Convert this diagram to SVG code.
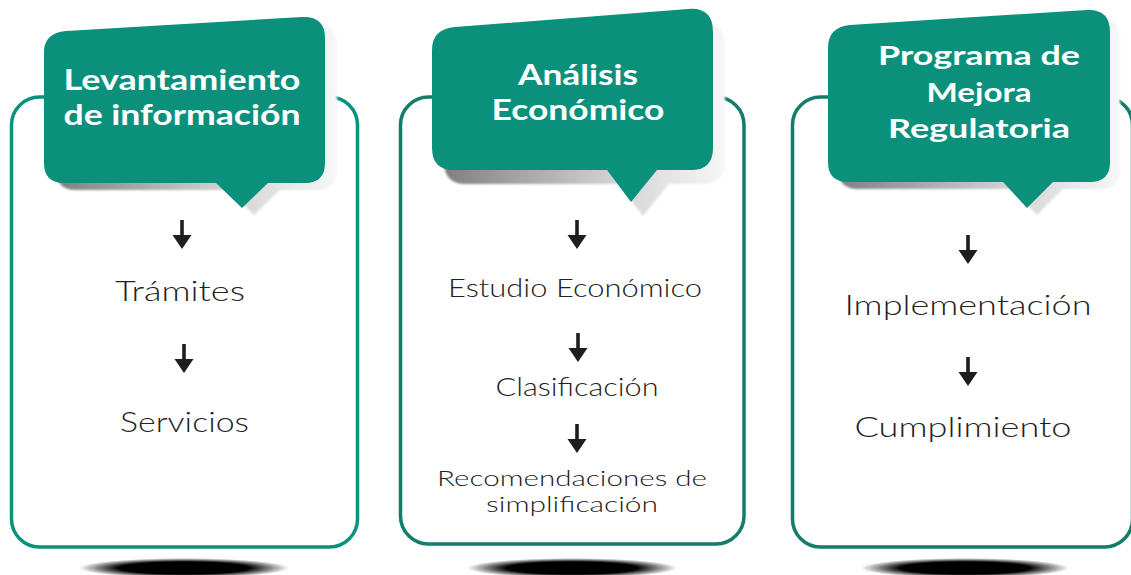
<svg xmlns="http://www.w3.org/2000/svg" xmlns:xlink="http://www.w3.org/1999/xlink" width="1131" height="575" viewBox="0 0 1131 575">
<style>
.panel{fill:#ffffff;stroke-width:3.5}
.p1{stroke:#0b927c}
.p2{stroke:#127d69}
.bubble{fill:#0b917b}
.bshadow{fill:url(#shGrad);filter:url(#soft)}
.head{font-family:Lato,"Open Sans","Liberation Sans",sans-serif;font-weight:700;fill:#ffffff;text-anchor:middle}
.body{font-family:Lato,"Open Sans","Liberation Sans",sans-serif;font-weight:300;fill:#222222;text-anchor:middle}
.arrow{fill:#1e1e1e}
.floor{fill:url(#floorGrad)}
</style>
<defs>
<linearGradient id="shGrad" x1="0" y1="0" x2="1" y2="0">
<stop offset="0" stop-color="#808080"/>
<stop offset="0.6" stop-color="#d2d2d2"/>
<stop offset="1" stop-color="#f7f7f7"/>
</linearGradient>
<radialGradient id="floorGrad" cx="0.5" cy="0.5" r="0.5">
<stop offset="0" stop-color="#000000"/>
<stop offset="0.62" stop-color="#000000"/>
<stop offset="1" stop-color="#000000" stop-opacity="0"/>
</radialGradient>
<filter id="soft" x="-10%" y="-10%" width="120%" height="120%">
<feGaussianBlur stdDeviation="1.2"/>
</filter>
<path id="arr" d="M-1.8,0 H1.8 V15 H9.5 L0,29 L-9.5,15 H-1.8 Z"/>
</defs>

<g id="floor-shadows">
<ellipse class="floor" cx="184" cy="568" rx="105" ry="10"/>
<ellipse class="floor" cx="572" cy="568" rx="105" ry="10"/>
<ellipse class="floor" cx="965" cy="568" rx="104" ry="10"/>
</g>

<g id="node-levantamiento">
<rect class="panel p1" x="11.5" y="97" width="346" height="450" rx="28"/>
<path class="bshadow" transform="translate(12,7)" d="M44,52 Q44,33 66,31 L302,17 Q325,16 325,38 L325,163 Q325,183 305,183 L268,183 L242,208 L216,183 L64,183 Q44,183 44,163 Z"/>
<path class="bubble" d="M44,52 Q44,33 66,31 L302,17 Q325,16 325,38 L325,163 Q325,183 305,183 L268,183 L242,208 L216,183 L64,183 Q44,183 44,163 Z"/>
<text class="head" x="182" y="90" font-size="28.5" textLength="237" lengthAdjust="spacingAndGlyphs">Levantamiento</text>
<text class="head" x="182" y="125" font-size="28.5" textLength="237" lengthAdjust="spacingAndGlyphs">de información</text>
<text class="body" x="180" y="301" font-size="27" textLength="130" lengthAdjust="spacingAndGlyphs">Trámites</text>
<text class="body" x="184.5" y="432" font-size="27" textLength="129" lengthAdjust="spacingAndGlyphs">Servicios</text>
</g>

<g id="node-analisis">
<rect class="panel p2" x="400.5" y="97" width="343.5" height="447" rx="28"/>
<path class="bshadow" transform="translate(12,14)" d="M432,50 Q432,29 455,27 L688,9 Q713,7 713,32 L713,148 Q713,170 691,170 L657,170 L631,202 L607,170 L454,170 Q432,170 432,148 Z"/>
<path class="bubble" d="M432,50 Q432,29 455,27 L688,9 Q713,7 713,32 L713,148 Q713,170 691,170 L657,170 L631,202 L607,170 L454,170 Q432,170 432,148 Z"/>
<text class="head" x="578" y="85" font-size="28" textLength="120" lengthAdjust="spacingAndGlyphs">Análisis</text>
<text class="head" x="578" y="120" font-size="28" textLength="173" lengthAdjust="spacingAndGlyphs">Económico</text>
<text class="body" x="575" y="297" font-size="25" textLength="254" lengthAdjust="spacingAndGlyphs">Estudio Económico</text>
<text class="body" x="577" y="396" font-size="25" textLength="163" lengthAdjust="spacingAndGlyphs">Clasificación</text>
<text class="body" x="572" y="486" font-size="21.5" textLength="270" lengthAdjust="spacingAndGlyphs">Recomendaciones de</text>
<text class="body" x="572" y="512" font-size="21.5" textLength="172" lengthAdjust="spacingAndGlyphs">simplificación</text>
</g>

<g id="node-programa">
<rect class="panel p2" x="792.5" y="97" width="340" height="450" rx="28"/>
<path class="bshadow" transform="translate(10,7)" d="M828,48 Q828,27 850,25 L1087,10 Q1110,9 1110,32 L1110,162 Q1110,182 1090,182 L1053,182 L1027,208 L1003,182 L848,182 Q828,182 828,162 Z"/>
<path class="bubble" d="M828,48 Q828,27 850,25 L1087,10 Q1110,9 1110,32 L1110,162 Q1110,182 1090,182 L1053,182 L1027,208 L1003,182 L848,182 Q828,182 828,162 Z"/>
<text class="head" x="979" y="65" font-size="27" textLength="202" lengthAdjust="spacingAndGlyphs">Programa de</text>
<text class="head" x="979" y="102" font-size="27" textLength="105" lengthAdjust="spacingAndGlyphs">Mejora</text>
<text class="head" x="979" y="138" font-size="27" textLength="182" lengthAdjust="spacingAndGlyphs">Regulatoria</text>
<text class="body" x="968" y="315" font-size="27" textLength="247" lengthAdjust="spacingAndGlyphs">Implementación</text>
<text class="body" x="963" y="437" font-size="27" textLength="217" lengthAdjust="spacingAndGlyphs">Cumplimiento</text>
</g>

<g id="connectors" class="arrow">
<use xlink:href="#arr" x="182" y="220"/>
<use xlink:href="#arr" x="184" y="344"/>
<use xlink:href="#arr" x="577" y="220"/>
<use xlink:href="#arr" x="578" y="333"/>
<use xlink:href="#arr" x="577" y="424"/>
<use xlink:href="#arr" x="968" y="235"/>
<use xlink:href="#arr" x="968" y="357"/>
</g>
</svg>
